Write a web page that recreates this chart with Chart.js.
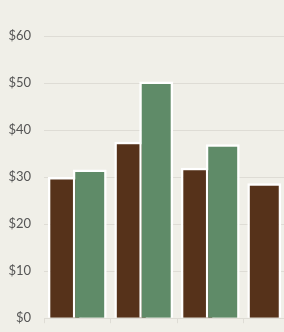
<!DOCTYPE html>
<html>
<head>
<meta charset="utf-8">
<script src="https://cdn.jsdelivr.net/npm/chart.js@4/dist/chart.umd.min.js"></script>
<style>
  html, body { margin: 0; padding: 0; background: #f0efe8; overflow: hidden; }
  #wrap { position: relative; width: 312px; height: 339px; }
</style>
</head>
<body>
<div id="wrap"><canvas id="spendChart"></canvas></div>
<script>
// chart values
const categories = ['Q1', 'Q2', 'Q3', 'Q4'];
const brownValues = [30, 37.5, 32, 28.7];
const greenValues = [31.6, 50.3, 37, null];
const yTicks = [0, 10, 20, 30, 40, 50, 60];

// the right-hand (green) bar overlaps the brown one, so draw it last
const greenOnTop = {
  id: 'greenOnTop',
  beforeDatasetDraw(chart, args) {
    if (args.index === 1) return false;
  },
  afterDatasetsDraw(chart) {
    chart.getDatasetMeta(1).controller.draw();
  }
};

const ctx = document.getElementById('spendChart').getContext('2d');
new Chart(ctx, {
  type: 'bar',
  data: {
    labels: categories,
    datasets: [
      {
        label: 'Brown',
        data: brownValues,
        backgroundColor: '#56321a',
        borderColor: '#ffffff',
        borderWidth: 2.5
      },
      {
        label: 'Green',
        data: greenValues,
        backgroundColor: '#5f8b68',
        borderColor: '#ffffff',
        borderWidth: 2.5
      }
    ]
  },
  options: {
    responsive: true,
    maintainAspectRatio: false,
    animation: false,
    categoryPercentage: 0.75,
    barPercentage: 1.36,
    layout: { padding: { top: 36, right: 2, bottom: 0, left: 6 } },
    plugins: {
      legend: { display: false },
      tooltip: { enabled: false }
    },
    scales: {
      x: {
        afterFit: (axis) => { axis.height = 14; },
        grid: { drawOnChartArea: false, color: '#dedcd5', tickLength: 5 },
        border: { display: false },
        ticks: { display: false }
      },
      y: {
        min: yTicks[0],
        max: yTicks[yTicks.length - 1],
        afterBuildTicks: (axis) => { axis.ticks = yTicks.map(v => ({ value: v })); },
        afterFit: (axis) => { axis.width = 38; },
        grid: { color: '#dedcd5', drawTicks: false },
        border: { display: false },
        ticks: {
          padding: 13,
          color: '#555555',
          font: { family: 'Lato', size: 13 },
          callback: (v) => '$' + v
        }
      }
    }
  },
  plugins: [greenOnTop]
});
</script>
</body>
</html>
